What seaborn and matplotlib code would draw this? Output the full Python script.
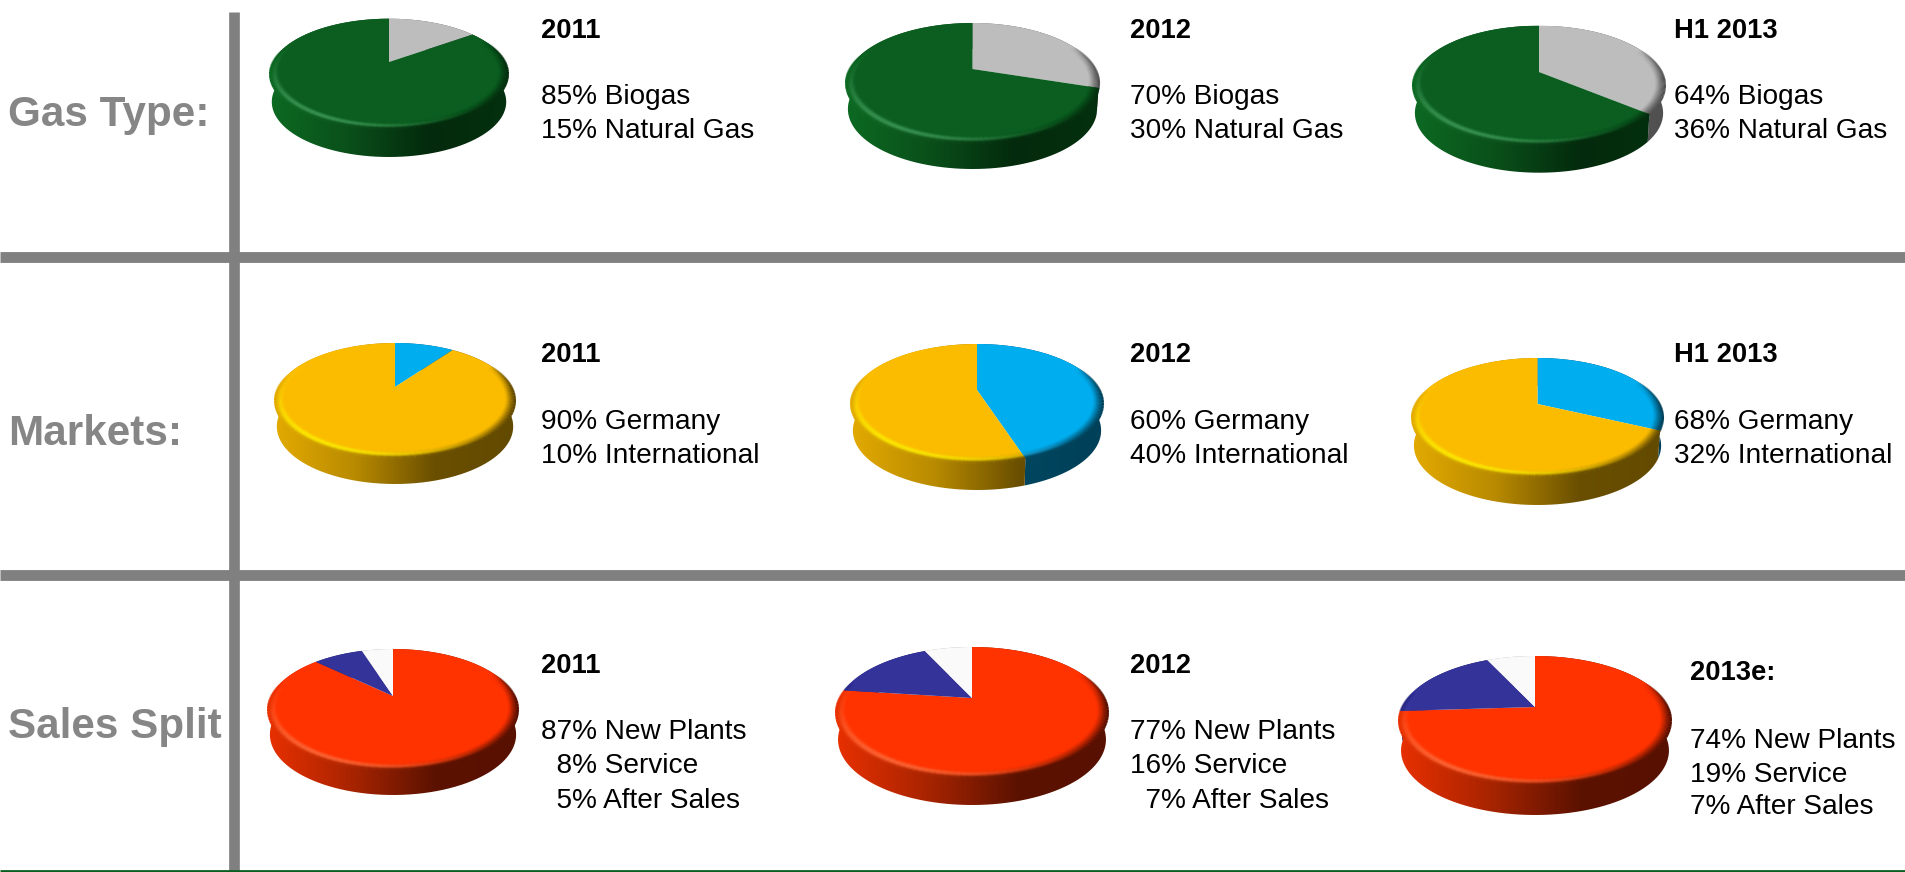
import numpy as np
import matplotlib
matplotlib.use("Agg")
import matplotlib.pyplot as plt
import seaborn as sns
from matplotlib.collections import LineCollection
from matplotlib.patches import Polygon
from matplotlib.path import Path
from matplotlib.transforms import Transform

# Values, slices run clockwise from 12 o'clock
years_gas = ["2011", "2012", "H1 2013"]
gas_natural = [15, 30, 36]
gas_biogas = [85, 70, 64]

# the 2012 slice is drawn bigger in the picture than its 40% label
years_markets = ["2011", "2012", "H1 2013"]
markets_international = [10, 45, 32]
markets_germany = [90, 55, 68]

years_sales = ["2011", "2012", "2013e:"]
sales_new_plants = [87, 77, 74]
sales_service = [8, 16, 19]
sales_after = [5, 7, 7]

row_labels = ["Gas Type:", "Markets:", "Sales Split"]

gas_text = [["85% Biogas", "15% Natural Gas"],
            ["70% Biogas", "30% Natural Gas"],
            ["64% Biogas", "36% Natural Gas"]]
markets_text = [["90% Germany", "10% International"],
                ["60% Germany", "40% International"],
                ["68% Germany", "32% International"]]
sales_text = [["87% New Plants", "  8% Service", "  5% After Sales"],
              ["77% New Plants", "16% Service", "  7% After Sales"],
              ["74% New Plants", "19% Service", "7% After Sales"]]

# slice colour: (side gradient left to right, highlight on the bevel)
looks = {
    "#0b5e20": (["#0c6a22", "#0a4f1a", "#032a0c", "#04300f"], "#3f9a58"),
    "#bdbdbd": (["#aaaaaa", "#888888", "#5a5a5a", "#505050"], "#e4e4e4"),
    "#fbbc00": (["#e3aa00", "#b88a00", "#6a4f00", "#624a00"], "#fff000"),
    "#00aeef": (["#0090c0", "#006a90", "#00465f", "#004058"], "#60d0ff"),
    "#ff3300": (["#e83000", "#a82400", "#5c1200", "#581000"], "#ff6a3a"),
    "#333399": (["#2a2a80", "#202060", "#141440", "#141440"], "#5a5ac0"),
    "#fafafa": (["#e0e0e0", "#b0b0b0", "#808080", "#808080"], "#ffffff"),
}

sns.set_theme(style="white")
plt.rcParams["font.family"] = ["Liberation Sans", "DejaVu Sans"]

fig = plt.figure(figsize=(19.05, 8.72), dpi=100)
ax = fig.add_axes([0, 0, 1, 1])


class PieView(Transform):
    # tilted disc with perspective, so the apex sits above the middle of the ellipse
    input_dims = 2
    output_dims = 2
    has_inverse = False

    def __init__(self, left, right, top, front, apex_y, taper=1.0, drop=0.0):
        super().__init__()
        up = apex_y - top
        down = front - apex_y
        self.k = (down - up) / (down + up)
        self.sy = up * (1 + self.k)
        self.sx = (right - left) / 2 * np.sqrt(1 - self.k ** 2) * taper
        self.cx = (left + right) / 2
        self.apex_y = apex_y
        self.drop = drop

    def transform_non_affine(self, values):
        values = np.asarray(values, dtype=float)
        w = 1 + self.k * values[:, 1]
        return np.column_stack([self.cx + self.sx * values[:, 0] / w,
                                self.apex_y + self.drop - self.sy * values[:, 1] / w])

    def transform_path_non_affine(self, path):
        scaled = Path(path.vertices * 1000, path.codes)
        poly = scaled.to_polygons(closed_only=True)[0] / 1000
        return Path(self.transform_non_affine(poly))


def arc(theta1, theta2, radius=1.0, n=120):
    t = np.radians(np.linspace(theta1, theta2, n))
    return np.column_stack([radius * np.cos(t), radius * np.sin(t)])


def draw_pie(values, colors, box):
    left, right, top, front, bottom, apex_y = box
    view = PieView(left, right, top, front, apex_y)
    base = view + ax.transData
    under = PieView(left, right, top, front, apex_y, taper=0.985, drop=bottom - front)
    wedges, _ = ax.pie(values, colors=colors, startangle=90, counterclock=False,
                       wedgeprops={"linewidth": 0})
    for wedge, color in zip(wedges, colors):
        stops, shine = looks[color]
        wedge.set_transform(base)
        wedge.set_zorder(2)
        wedge.set_clip_on(False)

        # side wall, horizontal gradient clipped to the extruded arc
        unit = arc(wedge.theta1, wedge.theta2)
        wall = np.vstack([view.transform_non_affine(unit),
                          under.transform_non_affine(unit)[::-1]])
        cmap = sns.blend_palette(stops, as_cmap=True)
        im = ax.imshow(np.linspace(0, 1, 256)[None, :], cmap=cmap, aspect="auto",
                       extent=(left, right, bottom, top), zorder=1)
        im.set_clip_path(Polygon(wall, closed=True, transform=ax.transData))

        # soft bevel: the face melts into the wall colour at the rim, thin shine front left
        shine_rgb = matplotlib.colors.to_rgb(shine)
        for radius in np.linspace(0.92, 1.0, 10):
            t = np.linspace(wedge.theta1, wedge.theta2, 120)
            mid = np.mod((t[:-1] + t[1:]) / 2, 360)
            pts = view.transform_non_affine(arc(wedge.theta1, wedge.theta2, radius))
            segs = np.stack([pts[:-1], pts[1:]], axis=1)
            xpos = ((pts[:-1, 0] + pts[1:, 0]) / 2 - left) / (right - left)

            # no bevel along the back of the disc
            front_w = np.clip((np.where(mid < 90, mid + 360, mid) - 165) / 25, 0, 1)
            front_w = front_w * np.clip((385 - np.where(mid < 90, mid + 360, mid)) / 30, 0, 1)
            melt = np.clip((radius - 0.955) / 0.045, 0, 1) ** 1.2
            right_melt = np.exp(-((np.where(mid < 90, mid + 360, mid) - 335) / 50) ** 2)
            melt = np.maximum(melt, right_melt * ((radius - 0.92) / 0.08) ** 1.5)

            wall_rgba = cmap(xpos)
            wall_rgba[:, 3] = front_w * melt
            shine_a = np.exp(-((mid - 235) / 42) ** 2) * np.exp(-((radius - 0.965) / 0.022) ** 2)
            shine_rgba = np.column_stack([np.tile(shine_rgb, (len(mid), 1)), shine_a * 0.75])
            for rgba in (wall_rgba, shine_rgba):
                ax.add_collection(LineCollection(segs, colors=rgba, linewidths=1.5,
                                                 capstyle="butt", zorder=3))


# left, right, top of face, front of face, bottom of wall, apex y
gas_boxes = [(270, 508, 18.7, 129, 157, 62), (846, 1099, 23, 143, 169, 69), (1413, 1665, 25.7, 145, 172.7, 72)]
markets_boxes = [(275, 515, 343, 458, 484, 387), (851, 1103, 344, 463, 490, 390), (1412, 1663, 358, 477, 505, 404)]
sales_boxes = [(268, 518, 649, 770, 795, 696), (836, 1108, 647, 778, 805, 698), (1399, 1671, 656, 785, 815, 707)]

for i in range(3):
    draw_pie([gas_natural[i], gas_biogas[i]], ["#bdbdbd", "#0b5e20"], gas_boxes[i])
    draw_pie([markets_international[i], markets_germany[i]], ["#00aeef", "#fbbc00"], markets_boxes[i])
    draw_pie([sales_new_plants[i], sales_service[i], sales_after[i]],
             ["#ff3300", "#333399", "#fafafa"], sales_boxes[i])

# frame lines
bar = "#808080"
ax.vlines(234, 12, 872, color=bar, linewidth=7.7, zorder=4)
ax.hlines([257, 574.5], 0, 1905, color=bar, linewidth=7.8, zorder=4)
ax.hlines(871, 0, 1905, color="#0b5e20", linewidth=2, zorder=5)

# row labels
for label, y in zip(row_labels, [126, 445, 738]):
    ax.text(8, y, label, fontsize=30.4, fontweight="bold", color="#868686", va="baseline", zorder=6)


def block(x, y_head, y_lines, head, lines):
    ax.text(x, y_head, head, fontsize=19.7, fontweight="bold", color="black", va="baseline", zorder=6)
    for y, line in zip(y_lines, lines):
        ax.text(x, y, line, fontsize=20.2, color="black", va="baseline", zorder=6)


col_x = [541, 1130, 1674]
for i in range(3):
    block(col_x[i], 38, [104, 138], years_gas[i], gas_text[i])
    block(col_x[i], 362, [429, 463], years_markets[i], markets_text[i])
    if i < 2:
        block(col_x[i], 673, [739, 773, 808], years_sales[i], sales_text[i])
    else:
        block(1690, 680, [748, 782, 814], years_sales[i], sales_text[i])

ax.set_aspect("auto")
ax.set_xlim(0, 1905)
ax.set_ylim(872, 0)
ax.axis("off")

fig.savefig("out.png", dpi=100, facecolor="white")
